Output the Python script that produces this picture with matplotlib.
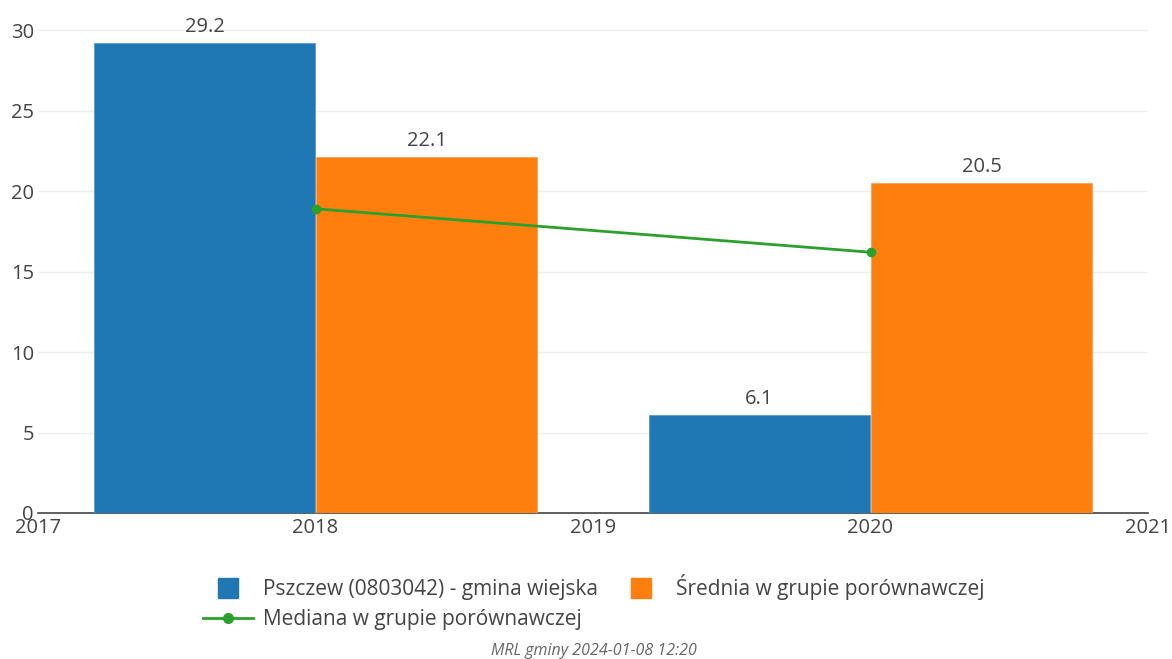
import matplotlib
matplotlib.use("Agg")
import matplotlib.pyplot as plt
from matplotlib.lines import Line2D

years = [2018, 2020]
gmina_values = [29.2, 6.1]
srednia_values = [22.1, 20.5]
mediana_values = [18.9, 16.2]
series_names = ["Pszczew (0803042) - gmina wiejska",
                "Średnia w grupie porównawczej",
                "Mediana w grupie porównawczej"]
x_ticks = [2017, 2018, 2019, 2020, 2021]
y_ticks = [0, 5, 10, 15, 20, 25, 30]
footer = "MRL gminy 2024-01-08 12:20"

blue = "#1f77b4"
orange = "#ff7f0e"
green = "#2ca02c"
txt = "#444444"

plt.rcParams['font.family'] = ['Open Sans', 'DejaVu Sans']

W, H = 1172, 659
fig = plt.figure(figsize=(W/100, H/100), dpi=100)
ax = fig.add_axes([38/W, 1-513/H, (1148-38)/W, (513-14)/H])

bw = 0.8
xb = [y - bw/2 for y in years]
xo = [y + bw/2 for y in years]
bars1 = ax.bar(xb, gmina_values, width=bw, color=blue, edgecolor="#5a9bd0", linewidth=0.6, zorder=2)
bars2 = ax.bar(xo, srednia_values, width=bw, color=orange, edgecolor="#ffa05a", linewidth=0.6, zorder=2)
ax.plot(years, mediana_values, color=green, lw=2, marker='o', markersize=6, zorder=3)

for bars, vals in ((bars1, gmina_values), (bars2, srednia_values)):
    for b, v in zip(bars, vals):
        ax.annotate(f"{v:.1f}", (b.get_x() + b.get_width()/2, v), xytext=(0, 4.5),
                    textcoords="offset points", ha="center", va="bottom",
                    fontsize=14.5, color=txt)

ax.set_xlim(2017, 2021)
ax.set_ylim(0, 31)
ax.set_xticks(x_ticks)
ax.set_xticklabels([str(t) for t in x_ticks])
ax.set_yticks(y_ticks)
ax.set_yticklabels([str(t) for t in y_ticks])
ax.tick_params(axis='both', length=0, labelsize=14.5, colors=txt)
ax.tick_params(axis='x', pad=3.5)
ax.tick_params(axis='y', pad=3)
ax.grid(axis='y', color="#eeeeee", lw=1, zorder=0)
ax.set_axisbelow(True)
for s in ("top", "right", "left"):
    ax.spines[s].set_visible(False)
ax.spines["bottom"].set_color("#444444")
ax.spines["bottom"].set_linewidth(1.2)
ax.spines["bottom"].set_zorder(1)

h_blue = Line2D([], [], marker='s', ls='none', markersize=15, color=blue)
h_orange = Line2D([], [], marker='s', ls='none', markersize=15, color=orange)
h_med = Line2D([], [], color=green, lw=2, marker='o', markersize=7)
leg = fig.legend([h_blue, h_med, h_orange],
                 [series_names[0], series_names[2], series_names[1]],
                 ncol=2, loc='upper left', bbox_to_anchor=(203/W, 1-574/H),
                 frameon=False, fontsize=15, handlelength=2.4, handletextpad=0.48,
                 columnspacing=0.87, labelspacing=0.45, borderpad=0, borderaxespad=0)
for t in leg.get_texts():
    t.set_color(txt)

fig.text(594/W, 1-651/H, footer, ha='center', va='center', fontsize=11.5,
         style='italic', color="#666666")

fig.savefig("out.png", dpi=100)
